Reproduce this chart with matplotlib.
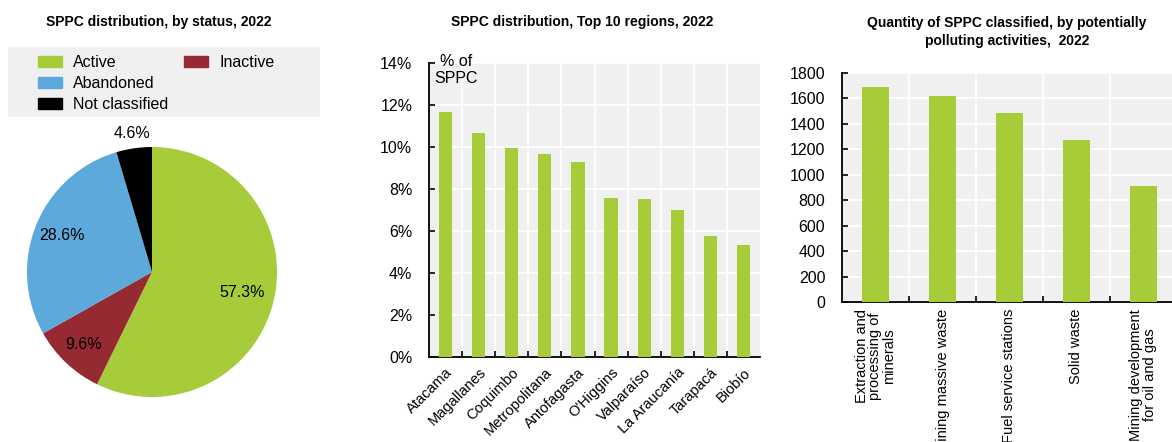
import matplotlib
matplotlib.use('Agg')
import matplotlib.pyplot as plt
from matplotlib.patches import Rectangle, Patch
import numpy as np

plt.rcParams['font.family'] = ['Liberation Sans', 'DejaVu Sans']

# Pie data
STATUS = ['Active', 'Inactive', 'Abandoned', 'Not classified']
STATUS_SHARE = [57.3, 9.6, 28.6, 4.6]
STATUS_COLORS = ['#a7cc39', '#962a32', '#5ea9dc', '#000000']

# Regions data (% of SPPC)
REGIONS = ['Atacama', 'Magallanes', 'Coquimbo', 'Metropolitana', 'Antofagasta',
           "O'Higgins", 'Valparaíso', 'La Araucanía', 'Tarapacá', 'Biobío']
REGION_SHARE = [11.65, 10.68, 9.97, 9.67, 9.29, 7.57, 7.52, 7.0, 5.77, 5.34]

# Activities data (count)
ACTIVITIES = ['Extraction and\nprocessing of\nminerals', 'Mining massive waste',
              'Fuel service stations', 'Solid waste',
              'Mining development\nfor oil and gas']
ACTIVITY_COUNT = [1690, 1619, 1488, 1276, 909]

GREEN = '#a7cc39'
BG = '#f0f0f0'
W, H = 1172, 442


def px_axes(fig, left, top, right, bottom):
    return fig.add_axes([left / W, (H - bottom) / H, (right - left) / W, (bottom - top) / H])


def style_bar_axes(ax, n):
    ax.set_facecolor(BG)
    for s in ['top', 'right']:
        ax.spines[s].set_visible(False)
    ax.spines['left'].set_linewidth(1.3)
    ax.spines['bottom'].set_linewidth(1.3)
    ax.set_xlim(-0.5, n - 0.5)
    ax.set_axisbelow(True)
    ax.yaxis.grid(True, color='white', linewidth=1.3)
    ax.set_xticks(np.arange(n - 1) + 0.5, minor=True)
    ax.xaxis.grid(True, which='minor', color='white', linewidth=1.3)
    ax.tick_params(axis='x', which='major', length=0)
    ax.tick_params(axis='x', which='minor', direction='in', length=4, width=1.2)
    ax.tick_params(axis='y', direction='in', length=4, width=1.2, labelsize=11.5, pad=12,
                   colors='black')


fig = plt.figure(figsize=(W / 100, H / 100), dpi=100)

# ---- Pie ----
fig.text(159 / W, 1 - 22 / H, 'SPPC distribution, by status, 2022', ha='center',
         va='center', fontsize=10, fontweight='bold')
fig.add_artist(Rectangle((8 / W, 1 - 117 / H), 312 / W, 70 / H, transform=fig.transFigure,
                         facecolor=BG, edgecolor='none'))
handles = [Patch(color=c) for c in STATUS_COLORS]
blank = Patch(color='none')
order = [0, 2, 3, 1]
leg_handles = [handles[i] for i in order] + [blank, blank]
leg_labels = [STATUS[i] for i in order] + ['', '']
fig.legend(leg_handles, leg_labels, ncol=2, loc='upper left',
           bbox_to_anchor=(38 / W, 1 - 55 / H), frameon=False, fontsize=11.5,
           handlelength=1.5, handleheight=0.75, handletextpad=0.7, labelspacing=0.38,
           columnspacing=1.0, borderaxespad=0, borderpad=0)

ax1 = px_axes(fig, 152 - 125, 272 - 125, 152 + 125, 272 + 125)
wedges, _ = ax1.pie(STATUS_SHARE, colors=STATUS_COLORS, startangle=90, counterclock=False,
                    radius=1)
ax1.set_xlim(-1, 1)
ax1.set_ylim(-1, 1)
label_dist = [0.74, 0.8, 0.78, 1.12]
for w, share, d in zip(wedges, STATUS_SHARE, label_dist):
    ang = np.deg2rad((w.theta1 + w.theta2) / 2)
    ax1.text(d * np.cos(ang), d * np.sin(ang), f'{share:.1f}%', ha='center', va='center',
             fontsize=11.5, clip_on=False)

# ---- Regions bar chart ----
fig.text(582 / W, 1 - 22 / H, 'SPPC distribution, Top 10 regions, 2022', ha='center',
         va='center', fontsize=10, fontweight='bold')
ax2 = px_axes(fig, 429, 63, 760, 357)
x2 = np.arange(len(REGIONS))
ax2.bar(x2, REGION_SHARE, width=0.4, color=GREEN, zorder=3)
style_bar_axes(ax2, len(REGIONS))
ax2.set_ylim(0, 14)
ax2.set_yticks(np.arange(0, 15, 2))
ax2.set_yticklabels([f'{v}%' for v in range(0, 15, 2)])
ax2.set_xticks(x2)
ax2.set_xticklabels(REGIONS, rotation=45, ha='right', va='top', rotation_mode='anchor',
                    fontsize=10.5)
ax2.tick_params(axis='x', which='major', pad=6)
ax2.text(456 / W, 1 - 70 / H, '% of\nSPPC', transform=fig.transFigure, ha='center',
         va='center', fontsize=11.5, linespacing=1.1)

# ---- Activities bar chart ----
fig.text(1007 / W, 1 - 32 / H,
         'Quantity of SPPC classified, by potentially\npolluting activities,  2022',
         ha='center', va='center', fontsize=10, fontweight='bold', linespacing=1.35)
ax3 = px_axes(fig, 842, 73, 1177, 302)
x3 = np.arange(len(ACTIVITIES))
ax3.bar(x3, ACTIVITY_COUNT, width=0.4, color=GREEN, zorder=3)
style_bar_axes(ax3, len(ACTIVITIES))
ax3.set_ylim(0, 1800)
ax3.set_yticks(np.arange(0, 1801, 200))
ax3.set_xticks(x3)
ax3.set_xticklabels(ACTIVITIES, rotation=90, ha='center', va='top', fontsize=10.5,
                    multialignment='center', linespacing=1.0)
ax3.tick_params(axis='x', which='major', pad=5)

fig.savefig('out.png', dpi=100)
